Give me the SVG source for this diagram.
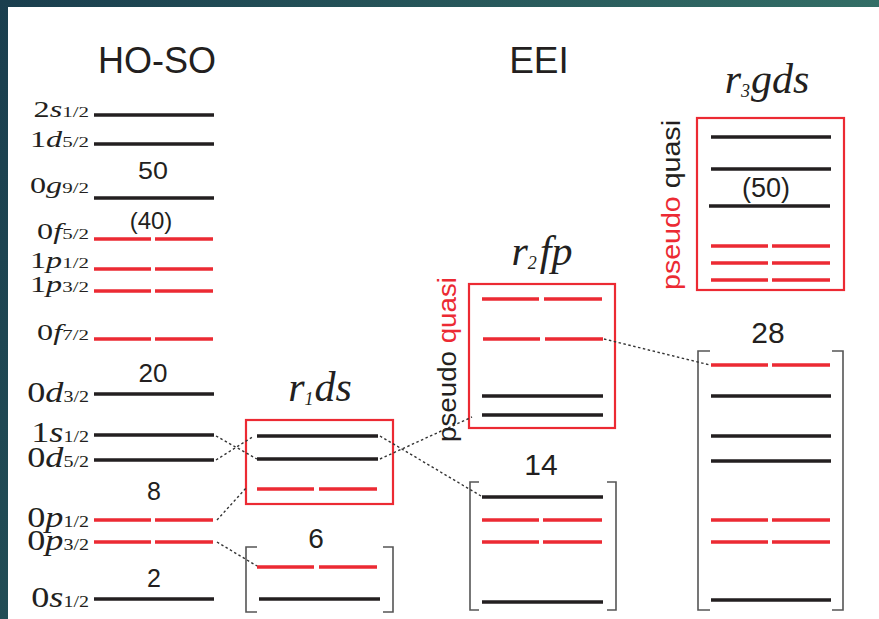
<svg xmlns="http://www.w3.org/2000/svg" width="879" height="619" viewBox="0 0 879 619">
<defs>
<linearGradient id="bg" x1="0" y1="0" x2="1" y2="0.3">
<stop offset="0" stop-color="#1a3e4e"/><stop offset="1" stop-color="#357268"/>
</linearGradient>
</defs>
<style>
.k{stroke:#231f20;stroke-width:3.6;fill:none}
.r{stroke:#ec2a33;stroke-width:3.6;fill:none}
.box{stroke:#ec2a33;stroke-width:2.2;fill:none}
.br{stroke:#555;stroke-width:1.6;fill:none}
.c{stroke:#333;stroke-width:1.4;stroke-dasharray:2.5 2.5;fill:none}
.lab{font-family:"Liberation Serif","Times New Roman",serif;fill:#231f20;text-anchor:end}
.top{font-size:23px}
.bot{font-size:29px}
.sub{font-size:15px}
.sub2{font-size:16px}
.num{font-family:"Liberation Sans",Arial,sans-serif;fill:#231f20;text-anchor:middle}
.ttl{font-family:"Liberation Serif","Times New Roman",serif;font-style:italic;fill:#231f20;text-anchor:middle;font-size:42px}
.ts{font-size:18px}
.i{font-style:italic}
.red{fill:#ec2a33}
.vt{font-family:"Liberation Sans",Arial,sans-serif;font-size:26px;fill:#231f20}
</style>
<rect width="879" height="619" fill="url(#bg)"/>
<rect x="8" y="7" width="871" height="612" fill="#fff"/>

<g id="titles">
<text class="num" x="157" y="73" font-size="36">HO-SO</text>
<text class="num" x="539" y="73" font-size="37">EEI</text>
</g>

<g id="hoso">
<g class="k">
<path d="M94 115H214M94 144H214M94 198H214M94 394H214M94 435H214M94 460H214M94 599H214"/>
</g>
<g class="r">
<path d="M94 239h57m4 0h58M94 269h57m4 0h58M94 291h57m4 0h58M94 339h57m4 0h58M94 520h57m4 0h58M94 542h57m4 0h58"/>
</g>
<text class="lab top" transform="translate(89,117) scale(1.4,1)">2<tspan class="i">s</tspan><tspan class="sub">1/2</tspan></text>
<text class="lab top" transform="translate(89,147) scale(1.4,1)">1<tspan class="i">d</tspan><tspan class="sub">5/2</tspan></text>
<text class="lab top" transform="translate(89,193) scale(1.4,1)">0<tspan class="i">g</tspan><tspan class="sub">9/2</tspan></text>
<text class="lab top" transform="translate(89,239) scale(1.4,1)">0<tspan class="i">f</tspan><tspan class="sub">5/2</tspan></text>
<text class="lab top" transform="translate(89,268) scale(1.4,1)">1<tspan class="i">p</tspan><tspan class="sub">1/2</tspan></text>
<text class="lab top" transform="translate(89,292) scale(1.4,1)">1<tspan class="i">p</tspan><tspan class="sub">3/2</tspan></text>
<text class="lab top" transform="translate(89,340) scale(1.4,1)">0<tspan class="i">f</tspan><tspan class="sub">7/2</tspan></text>
<text class="lab bot" transform="translate(89,402) scale(1.25,1)">0<tspan class="i">d</tspan><tspan class="sub2">3/2</tspan></text>
<text class="lab bot" transform="translate(89,442) scale(1.25,1)">1<tspan class="i">s</tspan><tspan class="sub2">1/2</tspan></text>
<text class="lab bot" transform="translate(89,467) scale(1.25,1)">0<tspan class="i">d</tspan><tspan class="sub2">5/2</tspan></text>
<text class="lab bot" transform="translate(89,527) scale(1.25,1)">0<tspan class="i">p</tspan><tspan class="sub2">1/2</tspan></text>
<text class="lab bot" transform="translate(89,550) scale(1.25,1)">0<tspan class="i">p</tspan><tspan class="sub2">3/2</tspan></text>
<text class="lab bot" transform="translate(89,607) scale(1.25,1)">0<tspan class="i">s</tspan><tspan class="sub2">1/2</tspan></text>
<text class="num" transform="translate(153,179) scale(1.12,1)" font-size="24">50</text>
<text class="num" x="151" y="229" font-size="24">(40)</text>
<text class="num" x="153" y="382" font-size="26">20</text>
<text class="num" x="154" y="500" font-size="25">8</text>
<text class="num" x="154" y="587" font-size="25">2</text>
</g>

<g id="r1ds">
<text class="ttl" x="320" y="401">r<tspan class="ts" dy="4">1</tspan><tspan dy="-4" dx="1">ds</tspan></text>
<rect class="box" x="246" y="420" width="147" height="84"/>
<path class="k" d="M257 436H378M257 459H378"/>
<path class="r" d="M257 489h57m5 0h58"/>
</g>

<g id="shell6">
<text class="num" x="316" y="548" font-size="28">6</text>
<path class="br" d="M257 547h-11v65h11M383 547h10v65h-10"/>
<path class="r" d="M257 567h57m5 0h58"/>
<path class="k" d="M259 599H380"/>
</g>

<g id="r2fp">
<text class="ttl" x="542" y="265">r<tspan class="ts" dy="4">2</tspan><tspan dy="-4" dx="3">fp</tspan></text>
<rect class="box" x="469" y="284" width="146" height="144"/>
<path class="r" d="M482 299h57m5 0h58M483 339h57m5 0h58"/>
<path class="k" d="M482 396H603M482 415H603"/>
<text class="vt" transform="translate(456,442) rotate(-90)" textLength="165" lengthAdjust="spacingAndGlyphs">pseudo <tspan class="red">quasi</tspan></text>
</g>

<g id="shell14">
<text class="num" x="541" y="475" font-size="30">14</text>
<path class="br" d="M479 482h-9v128h9M607 482h9v128h-9"/>
<path class="k" d="M482 497H603M482 602H603"/>
<path class="r" d="M482 520h57m4 0h59M482 542h57m4 0h59"/>
</g>

<g id="r3gds">
<text class="ttl" x="767" y="93">r<tspan class="ts" dy="4">3</tspan><tspan dy="-4" dx="1">gds</tspan></text>
<rect class="box" x="697" y="118" width="147" height="172"/>
<path class="k" d="M711 137H831M711 169H831M709 206H830"/>
<text class="num" x="766" y="197" font-size="27">(50)</text>
<path class="r" d="M711 246h57m4 0h58M711 263h57m4 0h58M711 280h57m4 0h58"/>
<text class="vt" transform="translate(680,290) rotate(-90)" textLength="170" lengthAdjust="spacingAndGlyphs"><tspan class="red">pseudo</tspan> quasi</text>
</g>

<g id="shell28">
<text class="num" x="768" y="343" font-size="30">28</text>
<path class="br" d="M710 351h-12v259h12M832 351h11v259h-11"/>
<path class="r" d="M711 365h57m4 0h58M711 520h57m4 0h58M711 542h57m4 0h58"/>
<path class="k" d="M711 396H831M711 436H831M711 461H831M711 600H831"/>
</g>

<g id="connectors" class="c">
<path d="M216 436L257 459"/>
<path d="M216 460L254 436"/>
<path d="M217 520L247 487"/>
<path d="M217 542L257 566"/>
<path d="M380 436L481 496"/>
<path d="M380 459L472 417"/>
<path d="M604 339L710 365"/>
</g>
</svg>
